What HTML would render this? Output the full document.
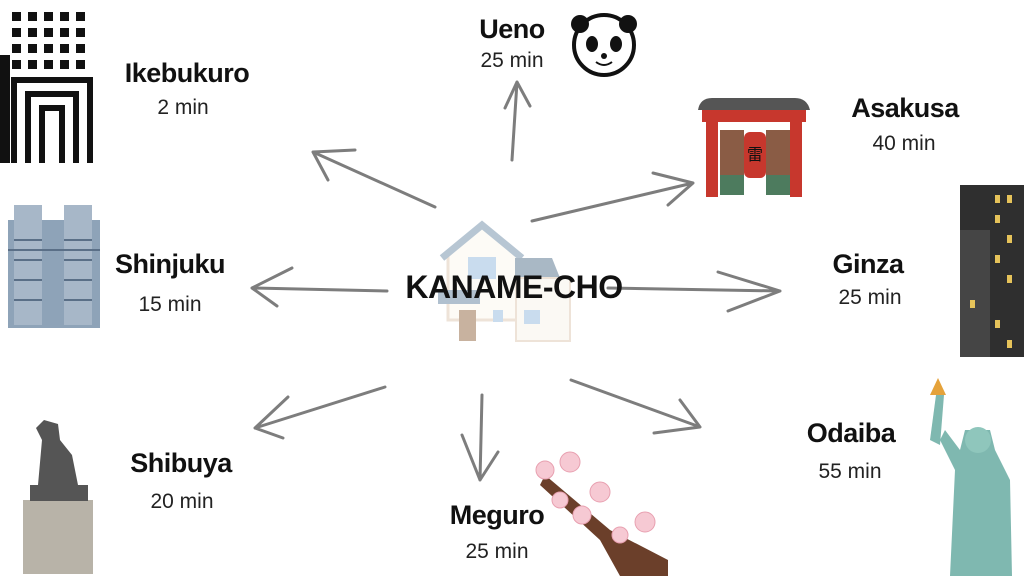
<!DOCTYPE html>
<html><head><style>
body{margin:0;width:1024px;height:576px;background:#fff;overflow:hidden;position:relative;font-family:"Liberation Sans",sans-serif}
.t{position:absolute;font-weight:bold;font-size:27px;color:#111;text-align:center;transform:translateX(-50%);white-space:nowrap;letter-spacing:-0.5px}
.m{position:absolute;font-size:21px;color:#222;text-align:center;transform:translateX(-50%);white-space:nowrap}
</style></head><body>
<svg width="1024" height="576" style="position:absolute;left:0;top:0">
<g stroke="#7a7a7a" stroke-width="3" fill="none" stroke-linecap="round">
<!-- house -->
</g>
<g>
<polygon points="448,255 482,225 520,255 520,320 448,320" fill="#fdfbf6" stroke="#eee3d8" stroke-width="3"/>
<polyline points="442,258 482,225 522,258" fill="none" stroke="#b7c6d3" stroke-width="7"/>
<polygon points="515,258 552,258 560,278 515,278" fill="#a9b8c5"/>
<rect x="516" y="278" width="54" height="63" fill="#fbf9f4" stroke="#eee3d8" stroke-width="2"/>
<rect x="438" y="290" width="42" height="14" fill="#b0c0cf"/>
<rect x="468" y="257" width="28" height="22" fill="#c9dcee"/>
<rect x="459" y="310" width="17" height="31" fill="#c8b29f"/>
<rect x="493" y="310" width="10" height="12" fill="#c9dcee"/>
<rect x="524" y="310" width="16" height="14" fill="#c9dcee"/>
</g>
<g stroke="#7d7d7d" stroke-width="3" fill="none" stroke-linecap="round" stroke-linejoin="round">
<path d="M512,160 L517,82 M505,108 L517,82 L530,106"/>
<path d="M435,207 L313,152 M355,150 L313,152 L328,180"/>
<path d="M532,221 L693,183 M653,173 L693,183 L668,205"/>
<path d="M387,291 L252,288 M292,268 L252,288 L277,306"/>
<path d="M608,288 L780,291 M718,272 L780,291 L728,311"/>
<path d="M385,387 L255,428 M288,397 L255,428 L283,438"/>
<path d="M482,395 L480,480 M462,435 L480,480 L498,452"/>
<path d="M571,380 L700,427 M680,400 L700,427 L654,433"/>
</g>
<!-- Ikebukuro building -->
<rect x="0" y="10" width="95" height="155" fill="#fff"/>
<g fill="#111">
<rect x="0" y="55" width="10" height="108"/>
<rect x="12" y="12" width="9" height="9"/><rect x="28" y="12" width="9" height="9"/><rect x="44" y="12" width="9" height="9"/><rect x="60" y="12" width="9" height="9"/><rect x="76" y="12" width="9" height="9"/>
<rect x="12" y="28" width="9" height="9"/><rect x="28" y="28" width="9" height="9"/><rect x="44" y="28" width="9" height="9"/><rect x="60" y="28" width="9" height="9"/><rect x="76" y="28" width="9" height="9"/>
<rect x="12" y="44" width="9" height="9"/><rect x="28" y="44" width="9" height="9"/><rect x="44" y="44" width="9" height="9"/><rect x="60" y="44" width="9" height="9"/><rect x="76" y="44" width="9" height="9"/>
<rect x="12" y="60" width="9" height="9"/><rect x="28" y="60" width="9" height="9"/><rect x="44" y="60" width="9" height="9"/><rect x="60" y="60" width="9" height="9"/><rect x="76" y="60" width="9" height="9"/>
</g>
<g fill="none" stroke="#111" stroke-width="6">
<path d="M14,163 V80 H90 V163"/><path d="M28,163 V94 H76 V163"/><path d="M42,163 V108 H62 V163"/>
</g>
<!-- Panda -->
<circle cx="604" cy="45" r="30" fill="#fff" stroke="#111" stroke-width="4"/>
<circle cx="580" cy="24" r="9" fill="#111"/><circle cx="628" cy="24" r="9" fill="#111"/>
<ellipse cx="592" cy="44" rx="6" ry="8" fill="#111"/><ellipse cx="616" cy="44" rx="6" ry="8" fill="#111"/>
<circle cx="604" cy="56" r="3" fill="#111"/>
<path d="M596,62 Q604,68 612,62" stroke="#111" stroke-width="2" fill="none"/>
<!-- Asakusa gate -->
<path d="M698,110 Q700,98 712,98 L795,98 Q807,98 810,110 Z" fill="#555"/>
<rect x="702" y="110" width="104" height="12" fill="#c7372d"/>
<rect x="706" y="122" width="12" height="75" fill="#c7372d"/>
<rect x="790" y="122" width="12" height="75" fill="#c7372d"/>
<rect x="720" y="130" width="24" height="65" fill="#8a5c45"/>
<rect x="766" y="130" width="24" height="65" fill="#8a5c45"/>
<rect x="720" y="175" width="24" height="20" fill="#4d7b5e"/>
<rect x="766" y="175" width="24" height="20" fill="#4d7b5e"/>
<rect x="744" y="132" width="22" height="46" rx="6" fill="#c7372d"/>
<text x="755" y="160" font-size="16" text-anchor="middle" fill="#111" font-family="Noto Sans CJK JP">雷</text>
<!-- Shinjuku -->
<rect x="8" y="220" width="92" height="108" fill="#8ea3b8"/>
<rect x="14" y="205" width="28" height="120" fill="#a7b7c8"/>
<rect x="64" y="205" width="28" height="120" fill="#a7b7c8"/>
<g stroke="#5a6f87" stroke-width="2"><path d="M14,240 H42 M14,260 H42 M14,280 H42 M14,300 H42 M64,240 H92 M64,260 H92 M64,280 H92 M64,300 H92 M8,250 H100"/></g>
<!-- Ginza -->
<rect x="960" y="185" width="64" height="172" fill="#2f2f2f"/>
<rect x="960" y="230" width="30" height="127" fill="#454545"/>
<g fill="#e6c35a"><rect x="995" y="195" width="5" height="8"/><rect x="1007" y="195" width="5" height="8"/><rect x="995" y="215" width="5" height="8"/><rect x="1007" y="235" width="5" height="8"/><rect x="995" y="255" width="5" height="8"/><rect x="1007" y="275" width="5" height="8"/><rect x="970" y="300" width="5" height="8"/><rect x="995" y="320" width="5" height="8"/><rect x="1007" y="340" width="5" height="8"/></g>
<!-- Shibuya -->
<rect x="23" y="500" width="70" height="74" fill="#b8b3a8"/>
<rect x="30" y="485" width="58" height="16" fill="#555"/>
<path d="M38,485 L42,440 L36,428 L44,420 L58,424 L60,440 L72,455 L78,485 Z" fill="#555"/>
<!-- Meguro sakura -->
<path d="M545,475 L610,530 L668,560 L668,576 L620,576 L600,540 L540,485 Z" fill="#6b3f2a"/>
<g fill="#f6c9d3" stroke="#e8a0b0"><circle cx="570" cy="462" r="10"/><circle cx="545" cy="470" r="9"/><circle cx="600" cy="492" r="10"/><circle cx="582" cy="515" r="9"/><circle cx="645" cy="522" r="10"/><circle cx="620" cy="535" r="8"/><circle cx="560" cy="500" r="8"/></g>
<!-- Odaiba statue -->
<path d="M950,576 L955,470 L940,440 L945,430 L960,450 L965,430 L990,430 L995,450 L1010,480 L1012,576 Z" fill="#7fb8b0"/>
<circle cx="978" cy="440" r="13" fill="#8fc6bc"/>
<path d="M930,440 L936,395 L944,395 L940,445 Z" fill="#7fb8b0"/>
<path d="M930,395 L946,395 L938,378 Z" fill="#e5a23a"/>
</svg>
<div class="t" style="left:512px;top:14px">Ueno</div>
<div class="m" style="left:512px;top:49px">25 min</div>
<div class="t" style="left:187px;top:58px">Ikebukuro</div>
<div class="m" style="left:183px;top:96px">2 min</div>
<div class="t" style="left:905px;top:93px">Asakusa</div>
<div class="m" style="left:904px;top:132px">40 min</div>
<div class="t" style="left:170px;top:249px">Shinjuku</div>
<div class="m" style="left:170px;top:293px">15 min</div>
<div class="t" style="left:514px;top:269px;font-size:32px">KANAME-CHO</div>
<div class="t" style="left:868px;top:249px">Ginza</div>
<div class="m" style="left:870px;top:286px">25 min</div>
<div class="t" style="left:851px;top:418px">Odaiba</div>
<div class="m" style="left:850px;top:460px">55 min</div>
<div class="t" style="left:181px;top:448px">Shibuya</div>
<div class="m" style="left:182px;top:490px">20 min</div>
<div class="t" style="left:497px;top:500px">Meguro</div>
<div class="m" style="left:497px;top:540px">25 min</div>
</body></html>
